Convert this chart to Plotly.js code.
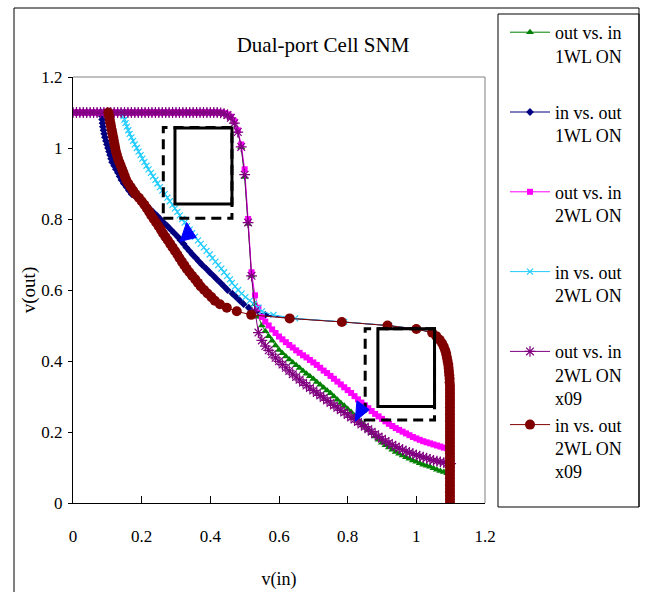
<!DOCTYPE html>
<html>
<head>
<meta charset="utf-8">
<script src="https://cdn.plot.ly/plotly-3.0.1.min.js"></script>
<style>html,body{margin:0;padding:0;background:#fff;}#chart{width:646px;height:592px;}</style>
</head>
<body>
<div id="chart"></div>
<script>
// Sweep voltage (V), 0 .. 1.1 in 0.01 steps
const sweep = [0,0.01,0.02,0.03,0.04,0.05,0.06,0.07,0.08,0.09,
  0.1,0.11,0.12,0.13,0.14,0.15,0.16,0.17,0.18,0.19,
  0.2,0.21,0.22,0.23,0.24,0.25,0.26,0.27,0.28,0.29,
  0.3,0.31,0.32,0.33,0.34,0.35,0.36,0.37,0.38,0.39,
  0.4,0.41,0.42,0.43,0.44,0.45,0.46,0.47,0.48,0.49,
  0.5,0.51,0.52,0.53,0.54,0.55,0.56,0.57,0.58,0.59,
  0.6,0.61,0.62,0.63,0.64,0.65,0.66,0.67,0.68,0.69,
  0.7,0.71,0.72,0.73,0.74,0.75,0.76,0.77,0.78,0.79,
  0.8,0.81,0.82,0.83,0.84,0.85,0.86,0.87,0.88,0.89,
  0.9,0.91,0.92,0.93,0.94,0.95,0.96,0.97,0.98,0.99,
  1.0,1.01,1.02,1.03,1.04,1.05,1.06,1.07,1.08,1.09,1.1];

// out vs. in, 1WL ON  (y values over sweep)
const out1WL = [1.1,1.1,1.1,1.1,1.1,1.1,1.1,1.1,1.1,1.1,
  1.1,1.1,1.1,1.1,1.1,1.1,1.1,1.1,1.1,1.1,
  1.1,1.1,1.1,1.1,1.1,1.1,1.1,1.1,1.1,1.1,
  1.1,1.1,1.1,1.1,1.1,1.1,1.1,1.1,1.1,1.1,
  1.1,1.1,1.1,1.1,1.098,1.094,1.086,1.072,1.047,1.002,
  0.918,0.786,0.64,0.56,0.525,0.5,0.484,0.47,0.457,0.444,
  0.431,0.422,0.413,0.404,0.396,0.388,0.38,0.372,0.364,0.357,
  0.349,0.341,0.333,0.325,0.317,0.309,0.3,0.291,0.282,0.274,
  0.265,0.256,0.246,0.236,0.227,0.217,0.207,0.197,0.187,0.178,
  0.17,0.163,0.156,0.15,0.144,0.139,0.134,0.129,0.125,0.12,
  0.116,0.112,0.108,0.105,0.102,0.098,0.094,0.09,0.087,0.084,0.082];

// in vs. out, 1WL ON  (x values over sweep)
const in1WL = [1.098,1.098,1.098,1.098,1.098,1.098,1.098,1.098,1.098,1.098,
  1.098,1.098,1.098,1.098,1.098,1.098,1.098,1.098,1.098,1.098,
  1.098,1.098,1.098,1.098,1.098,1.098,1.098,1.098,1.098,1.098,
  1.098,1.098,1.098,1.098,1.097,1.097,1.096,1.095,1.094,1.093,
  1.091,1.089,1.087,1.084,1.08,1.075,1.068,1.058,1.046,1.002,
  0.918,0.786,0.634,0.56,0.53,0.512,0.497,0.486,0.475,0.464,
  0.45,0.44,0.43,0.419,0.409,0.398,0.388,0.377,0.367,0.358,
  0.348,0.339,0.33,0.322,0.313,0.305,0.295,0.285,0.275,0.264,
  0.254,0.244,0.233,0.222,0.212,0.199,0.185,0.171,0.163,0.156,
  0.148,0.141,0.136,0.131,0.125,0.12,0.114,0.111,0.108,0.105,
  0.102,0.099,0.096,0.093,0.091,0.089,0.087,0.086,0.085,0.084,0.083];

// out vs. in, 2WL ON
const out2WL = [1.1,1.1,1.1,1.1,1.1,1.1,1.1,1.1,1.1,1.1,
  1.1,1.1,1.1,1.1,1.1,1.1,1.1,1.1,1.1,1.1,
  1.1,1.1,1.1,1.1,1.1,1.1,1.1,1.1,1.1,1.1,
  1.1,1.1,1.1,1.1,1.1,1.1,1.1,1.1,1.1,1.1,
  1.1,1.1,1.1,1.1,1.098,1.095,1.088,1.075,1.05,1.01,
  0.94,0.8,0.65,0.585,0.55,0.524,0.511,0.5,0.489,0.479,
  0.469,0.461,0.453,0.445,0.438,0.43,0.423,0.416,0.41,0.403,
  0.396,0.389,0.381,0.373,0.366,0.358,0.35,0.342,0.334,0.326,
  0.318,0.31,0.301,0.292,0.283,0.275,0.267,0.259,0.251,0.244,
  0.237,0.23,0.223,0.217,0.211,0.206,0.201,0.196,0.191,0.186,
  0.182,0.178,0.174,0.171,0.168,0.165,0.162,0.159,0.156,0.154,0.152];

// in vs. out, 2WL ON
const in2WL = [1.098,1.098,1.098,1.098,1.098,1.098,1.098,1.098,1.098,1.098,
  1.098,1.098,1.098,1.098,1.098,1.098,1.098,1.098,1.098,1.098,
  1.098,1.098,1.098,1.098,1.098,1.098,1.098,1.098,1.098,1.098,
  1.098,1.098,1.098,1.098,1.097,1.097,1.096,1.095,1.094,1.093,
  1.091,1.089,1.087,1.084,1.08,1.075,1.068,1.058,1.047,1.003,
  0.92,0.79,0.647,0.584,0.55,0.54,0.527,0.515,0.502,0.491,
  0.481,0.472,0.463,0.457,0.449,0.44,0.432,0.423,0.415,0.406,
  0.398,0.389,0.381,0.372,0.364,0.355,0.347,0.34,0.332,0.325,
  0.318,0.311,0.304,0.297,0.29,0.282,0.275,0.267,0.26,0.253,
  0.246,0.24,0.233,0.227,0.22,0.214,0.208,0.202,0.197,0.191,
  0.186,0.18,0.175,0.17,0.165,0.161,0.157,0.153,0.15,0.147,0.145];

// out vs. in, 2WL ON x09
const out2WLx09 = [1.1,1.1,1.1,1.1,1.1,1.1,1.1,1.1,1.1,1.1,
  1.1,1.1,1.1,1.1,1.1,1.1,1.1,1.1,1.1,1.1,
  1.1,1.1,1.1,1.1,1.1,1.1,1.1,1.1,1.1,1.1,
  1.1,1.1,1.1,1.1,1.1,1.1,1.1,1.1,1.1,1.1,
  1.1,1.1,1.1,1.099,1.097,1.093,1.085,1.07,1.045,1.003,
  0.925,0.79,0.64,0.54,0.48,0.458,0.442,0.43,0.419,0.409,
  0.399,0.39,0.381,0.372,0.363,0.355,0.347,0.339,0.331,0.324,
  0.317,0.31,0.303,0.296,0.289,0.282,0.275,0.268,0.261,0.255,
  0.248,0.241,0.235,0.228,0.221,0.215,0.208,0.201,0.194,0.187,
  0.181,0.175,0.169,0.164,0.159,0.154,0.15,0.146,0.142,0.139,
  0.135,0.132,0.129,0.126,0.123,0.12,0.118,0.116,0.114,0.112,0.111];

// in vs. out, 2WL ON x09
const in2WLx09 = [1.098,1.098,1.098,1.098,1.098,1.098,1.098,1.098,1.098,1.098,
  1.098,1.098,1.098,1.098,1.098,1.098,1.098,1.098,1.098,1.098,
  1.098,1.098,1.098,1.098,1.098,1.098,1.098,1.098,1.098,1.098,
  1.098,1.098,1.098,1.098,1.097,1.097,1.096,1.095,1.094,1.093,
  1.091,1.089,1.087,1.084,1.08,1.075,1.068,1.058,1.046,1.0,
  0.916,0.783,0.631,0.519,0.477,0.448,0.428,0.413,0.403,0.392,
  0.382,0.372,0.364,0.356,0.347,0.339,0.331,0.324,0.317,0.31,
  0.304,0.297,0.29,0.283,0.276,0.269,0.262,0.256,0.249,0.242,
  0.235,0.228,0.222,0.215,0.208,0.2,0.192,0.182,0.175,0.168,
  0.161,0.155,0.151,0.147,0.143,0.139,0.135,0.131,0.128,0.125,
  0.123,0.121,0.119,0.117,0.115,0.113,0.111,0.109,0.107,0.105,0.103];

const seriesNames = [
  "out vs. in<br>1WL ON",
  "in vs. out<br>1WL ON",
  "out vs. in<br>2WL ON",
  "in vs. out<br>2WL ON",
  "out vs. in<br>2WL ON<br>x09",
  "in vs. out<br>2WL ON<br>x09"
];
const xTicks = [0, 0.2, 0.4, 0.6, 0.8, 1, 1.2];
const yTicks = [0, 0.2, 0.4, 0.6, 0.8, 1, 1.2];

const serif = "Liberation Serif, Times New Roman, serif";

function tr(x, y, name, color, symbol, size, group, lw) {
  return {
    x: x, y: y, name: name, type: "scatter", mode: "lines+markers",
    legendgroup: group,
    line: {color: color, width: 1},
    marker: {color: color, symbol: symbol, size: size, line: {color: color, width: lw || 0}}
  };
}

const data = [
  tr(sweep, out1WL, seriesNames[0], "#008000", "triangle-up", 7, "a"),
  tr(in1WL, sweep, seriesNames[1], "#000080", "diamond", 6, "b"),
  tr(sweep, out2WL, seriesNames[2], "#FF00FF", "square", 6, "c"),
  tr(in2WL, sweep, seriesNames[3], "#22CCFF", "x-thin-open", 6, "d", 1.2),
  tr(sweep, out2WLx09, seriesNames[4], "#800080", "asterisk-open", 9, "e", 1.2),
  tr(in2WLx09, sweep, seriesNames[5], "#800000", "circle", 10, "e")
];

const px = (v) => (v - 73) / 412;     // pixel -> paper x
const py = (v) => (503 - v) / 426;    // pixel -> paper y

const shapes = [
  // outer chart frame
  {type: "path", xref: "paper", yref: "paper",
   path: `M ${px(14)},${py(640)} L ${px(14)},${py(8)} L ${px(639)},${py(8)} L ${px(639)},${py(507)}`,
   line: {color: "#000", width: 1}},
  // legend box
  {type: "rect", xref: "paper", yref: "paper", x0: px(498), x1: px(639), y0: py(507), y1: py(14),
   line: {color: "#000", width: 1}},
  // plot area top/right border
  {type: "path", xref: "paper", yref: "paper", path: "M 0,1 L 1,1 L 1,0",
   line: {color: "#808080", width: 1}, layer: "below"},
  // SNM squares (upper-left lobe)
  {type: "rect", xref: "x", yref: "y", x0: 0.263, x1: 0.463, y0: 0.802, y1: 1.058,
   line: {color: "#000", width: 3, dash: "10px,6px"}},
  {type: "rect", xref: "x", yref: "y", x0: 0.297, x1: 0.463, y0: 0.842, y1: 1.056,
   line: {color: "#000", width: 3}},
  // SNM squares (lower-right lobe)
  {type: "rect", xref: "x", yref: "y", x0: 0.851, x1: 1.053, y0: 0.234, y1: 0.491,
   line: {color: "#000", width: 3, dash: "10px,6px"}},
  {type: "rect", xref: "x", yref: "y", x0: 0.888, x1: 1.053, y0: 0.272, y1: 0.491,
   line: {color: "#000", width: 3}},
  // blue arrowheads
  {type: "path", xref: "x", yref: "y", path: "M 0.312,0.737 L 0.331,0.790 L 0.359,0.748 Z",
   fillcolor: "#0000FF", line: {color: "#0000FF", width: 1}},
  {type: "path", xref: "x", yref: "y", path: "M 0.822,0.230 L 0.827,0.288 L 0.863,0.263 Z",
   fillcolor: "#0000FF", line: {color: "#0000FF", width: 1}}
];

const layout = {
  width: 646, height: 592,
  margin: {l: 73, r: 161, t: 77, b: 89},
  paper_bgcolor: "#fff", plot_bgcolor: "#fff",
  font: {family: serif, color: "#000", size: 17},
  title: {text: "Dual-port Cell SNM", font: {family: serif, size: 21, color: "#000"},
          x: 0.5, xref: "container", y: 1 - 45 / 592, yref: "container", yanchor: "middle"},
  xaxis: {range: [0, 1.2], tickvals: xTicks, ticktext: xTicks.map(String),
          showline: true, linecolor: "#000", linewidth: 1, showgrid: false, zeroline: false,
          ticks: "inside", ticklen: 7, tickcolor: "#000", ticklabelstandoff: 18,
          tickfont: {family: serif, size: 17, color: "#000"},
          title: {text: "v(in)", font: {family: serif, size: 18, color: "#000"}, standoff: 26}},
  yaxis: {range: [0, 1.2], tickvals: yTicks, ticktext: yTicks.map(String),
          showline: true, linecolor: "#000", linewidth: 1, showgrid: false, zeroline: false,
          ticks: "outside", ticklen: 4, tickcolor: "#000", ticklabelstandoff: 2,
          tickfont: {family: serif, size: 17, color: "#000"},
          title: {text: "v(out)", font: {family: serif, size: 19, color: "#000"}, standoff: 0}},
  showlegend: true,
  legend: {x: px(505), y: py(14), xanchor: "left", yanchor: "top", valign: "top",
           maxheight: 580, itemwidth: 40,
           bgcolor: "rgba(0,0,0,0)", borderwidth: 0, tracegroupgap: 30,
           font: {family: serif, size: 18, color: "#000"}},
  shapes: shapes
};

Plotly.newPlot("chart", data, layout, {displayModeBar: false, staticPlot: true});
</script>
</body>
</html>
